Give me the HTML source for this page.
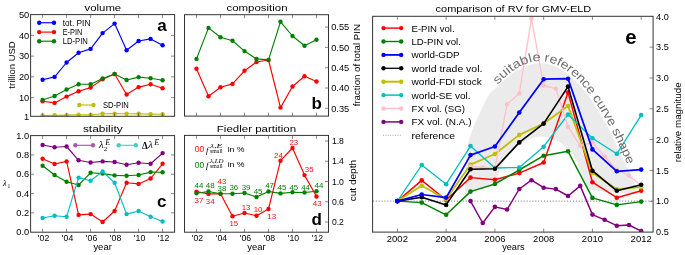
<!DOCTYPE html><html><head><meta charset="utf-8"><style>html,body{margin:0;padding:0;background:#fff;overflow:hidden}svg{display:block;will-change:transform}</style></head><body><svg width="685" height="255" viewBox="0 0 685 255" font-family="Liberation Sans, sans-serif">
<rect width="685" height="255" fill="#fff"/>
<g><polyline points="42.60,79.80 54.60,76.90 66.60,62.50 78.60,52.80 90.60,48.90 102.60,33.10 114.60,23.60 126.60,50.20 138.60,41.00 150.60,38.90 162.60,45.20" fill="none" stroke="#0000ff" stroke-width="1.15" stroke-linejoin="round"/>
<circle cx="42.60" cy="79.80" r="2.2" fill="#0000ff"/>
<circle cx="54.60" cy="76.90" r="2.2" fill="#0000ff"/>
<circle cx="66.60" cy="62.50" r="2.2" fill="#0000ff"/>
<circle cx="78.60" cy="52.80" r="2.2" fill="#0000ff"/>
<circle cx="90.60" cy="48.90" r="2.2" fill="#0000ff"/>
<circle cx="102.60" cy="33.10" r="2.2" fill="#0000ff"/>
<circle cx="114.60" cy="23.60" r="2.2" fill="#0000ff"/>
<circle cx="126.60" cy="50.20" r="2.2" fill="#0000ff"/>
<circle cx="138.60" cy="41.00" r="2.2" fill="#0000ff"/>
<circle cx="150.60" cy="38.90" r="2.2" fill="#0000ff"/>
<circle cx="162.60" cy="45.20" r="2.2" fill="#0000ff"/>
</g>
<g><polyline points="42.60,101.30 54.60,102.90 66.60,96.60 78.60,91.30 90.60,87.60 102.60,79.20 114.60,74.00 126.60,94.50 138.60,87.10 150.60,84.20 162.60,88.20" fill="none" stroke="#ff0000" stroke-width="1.15" stroke-linejoin="round"/>
<circle cx="42.60" cy="101.30" r="2.2" fill="#ff0000"/>
<circle cx="54.60" cy="102.90" r="2.2" fill="#ff0000"/>
<circle cx="66.60" cy="96.60" r="2.2" fill="#ff0000"/>
<circle cx="78.60" cy="91.30" r="2.2" fill="#ff0000"/>
<circle cx="90.60" cy="87.60" r="2.2" fill="#ff0000"/>
<circle cx="102.60" cy="79.20" r="2.2" fill="#ff0000"/>
<circle cx="114.60" cy="74.00" r="2.2" fill="#ff0000"/>
<circle cx="126.60" cy="94.50" r="2.2" fill="#ff0000"/>
<circle cx="138.60" cy="87.10" r="2.2" fill="#ff0000"/>
<circle cx="150.60" cy="84.20" r="2.2" fill="#ff0000"/>
<circle cx="162.60" cy="88.20" r="2.2" fill="#ff0000"/>
</g>
<g><polyline points="42.60,100.00 54.60,96.00 66.60,89.50 78.60,84.20 90.60,84.20 102.60,78.50 114.60,74.00 126.60,80.00 138.60,77.10 150.60,78.20 162.60,80.30" fill="none" stroke="#008000" stroke-width="1.15" stroke-linejoin="round"/>
<circle cx="42.60" cy="100.00" r="2.2" fill="#008000"/>
<circle cx="54.60" cy="96.00" r="2.2" fill="#008000"/>
<circle cx="66.60" cy="89.50" r="2.2" fill="#008000"/>
<circle cx="78.60" cy="84.20" r="2.2" fill="#008000"/>
<circle cx="90.60" cy="84.20" r="2.2" fill="#008000"/>
<circle cx="102.60" cy="78.50" r="2.2" fill="#008000"/>
<circle cx="114.60" cy="74.00" r="2.2" fill="#008000"/>
<circle cx="126.60" cy="80.00" r="2.2" fill="#008000"/>
<circle cx="138.60" cy="77.10" r="2.2" fill="#008000"/>
<circle cx="150.60" cy="78.20" r="2.2" fill="#008000"/>
<circle cx="162.60" cy="80.30" r="2.2" fill="#008000"/>
</g>
<clipPath id="ca"><rect x="30.6" y="14.6" width="144.0" height="101.7"/></clipPath>
<g clip-path="url(#ca)">
<g><polyline points="42.60,115.50 54.60,115.30 66.60,115.10 78.60,114.70 90.60,114.70 102.60,113.80 114.60,113.60 126.60,113.80 138.60,113.80 150.60,114.10 162.60,114.30" fill="none" stroke="#bfbf00" stroke-width="1.15" stroke-linejoin="round"/>
<circle cx="42.60" cy="115.50" r="2.2" fill="#bfbf00"/>
<circle cx="54.60" cy="115.30" r="2.2" fill="#bfbf00"/>
<circle cx="66.60" cy="115.10" r="2.2" fill="#bfbf00"/>
<circle cx="78.60" cy="114.70" r="2.2" fill="#bfbf00"/>
<circle cx="90.60" cy="114.70" r="2.2" fill="#bfbf00"/>
<circle cx="102.60" cy="113.80" r="2.2" fill="#bfbf00"/>
<circle cx="114.60" cy="113.60" r="2.2" fill="#bfbf00"/>
<circle cx="126.60" cy="113.80" r="2.2" fill="#bfbf00"/>
<circle cx="138.60" cy="113.80" r="2.2" fill="#bfbf00"/>
<circle cx="150.60" cy="114.10" r="2.2" fill="#bfbf00"/>
<circle cx="162.60" cy="114.30" r="2.2" fill="#bfbf00"/>
</g>
</g>
<rect x="30.6" y="14.6" width="144.00" height="101.70" fill="none" stroke="#333" stroke-width="1.0"/>
<line x1="42.60" y1="116.30" x2="42.60" y2="112.80" stroke="#555" stroke-width="0.7" />
<line x1="42.60" y1="14.60" x2="42.60" y2="18.10" stroke="#555" stroke-width="0.7" />
<line x1="66.60" y1="116.30" x2="66.60" y2="112.80" stroke="#555" stroke-width="0.7" />
<line x1="66.60" y1="14.60" x2="66.60" y2="18.10" stroke="#555" stroke-width="0.7" />
<line x1="90.60" y1="116.30" x2="90.60" y2="112.80" stroke="#555" stroke-width="0.7" />
<line x1="90.60" y1="14.60" x2="90.60" y2="18.10" stroke="#555" stroke-width="0.7" />
<line x1="114.60" y1="116.30" x2="114.60" y2="112.80" stroke="#555" stroke-width="0.7" />
<line x1="114.60" y1="14.60" x2="114.60" y2="18.10" stroke="#555" stroke-width="0.7" />
<line x1="138.60" y1="116.30" x2="138.60" y2="112.80" stroke="#555" stroke-width="0.7" />
<line x1="138.60" y1="14.60" x2="138.60" y2="18.10" stroke="#555" stroke-width="0.7" />
<line x1="162.60" y1="116.30" x2="162.60" y2="112.80" stroke="#555" stroke-width="0.7" />
<line x1="162.60" y1="14.60" x2="162.60" y2="18.10" stroke="#555" stroke-width="0.7" />
<line x1="30.60" y1="97.62" x2="34.10" y2="97.62" stroke="#555" stroke-width="0.7" />
<line x1="174.60" y1="97.62" x2="171.10" y2="97.62" stroke="#555" stroke-width="0.7" />
<line x1="30.60" y1="76.87" x2="34.10" y2="76.87" stroke="#555" stroke-width="0.7" />
<line x1="174.60" y1="76.87" x2="171.10" y2="76.87" stroke="#555" stroke-width="0.7" />
<line x1="30.60" y1="56.11" x2="34.10" y2="56.11" stroke="#555" stroke-width="0.7" />
<line x1="174.60" y1="56.11" x2="171.10" y2="56.11" stroke="#555" stroke-width="0.7" />
<line x1="30.60" y1="35.36" x2="34.10" y2="35.36" stroke="#555" stroke-width="0.7" />
<line x1="174.60" y1="35.36" x2="171.10" y2="35.36" stroke="#555" stroke-width="0.7" />
<text x="29.20" y="119.50" font-size="8.9" text-anchor="end" fill="#000" textLength="5.20" lengthAdjust="spacingAndGlyphs" >1</text>
<text x="29.20" y="100.82" font-size="8.9" text-anchor="end" fill="#000" textLength="10.30" lengthAdjust="spacingAndGlyphs" >10</text>
<text x="29.20" y="80.07" font-size="8.9" text-anchor="end" fill="#000" textLength="10.30" lengthAdjust="spacingAndGlyphs" >20</text>
<text x="29.20" y="59.31" font-size="8.9" text-anchor="end" fill="#000" textLength="10.30" lengthAdjust="spacingAndGlyphs" >30</text>
<text x="29.20" y="38.56" font-size="8.9" text-anchor="end" fill="#000" textLength="10.30" lengthAdjust="spacingAndGlyphs" >40</text>
<text x="29.20" y="17.80" font-size="8.9" text-anchor="end" fill="#000" textLength="10.30" lengthAdjust="spacingAndGlyphs" >50</text>
<text x="102.85" y="11.40" font-size="9.9" text-anchor="middle" fill="#000" textLength="36.70" lengthAdjust="spacingAndGlyphs" >volume</text>
<text transform="translate(15.0,65.0) rotate(-90)" font-size="8.6" text-anchor="middle" textLength="47.3" lengthAdjust="spacingAndGlyphs">trillion USD</text>
<text x="161.90" y="31.40" font-size="17" text-anchor="middle" fill="#000" font-weight="bold" >a</text>
<g><line x1="39.2" y1="22.75" x2="54.0" y2="22.75" stroke="#0000ff" stroke-width="1.15"/><circle cx="39.2" cy="22.75" r="2.2" fill="#0000ff"/><circle cx="54.0" cy="22.75" r="2.2" fill="#0000ff"/></g>
<text x="62.70" y="25.55" font-size="8.2" text-anchor="start" fill="#000" textLength="27.70" lengthAdjust="spacingAndGlyphs" >tot. PIN</text>
<g><line x1="39.2" y1="32.1" x2="54.0" y2="32.1" stroke="#ff0000" stroke-width="1.15"/><circle cx="39.2" cy="32.1" r="2.2" fill="#ff0000"/><circle cx="54.0" cy="32.1" r="2.2" fill="#ff0000"/></g>
<text x="62.70" y="34.90" font-size="8.2" text-anchor="start" fill="#000" textLength="19.60" lengthAdjust="spacingAndGlyphs" >E-PIN</text>
<g><line x1="39.2" y1="41.2" x2="54.0" y2="41.2" stroke="#008000" stroke-width="1.15"/><circle cx="39.2" cy="41.2" r="2.2" fill="#008000"/><circle cx="54.0" cy="41.2" r="2.2" fill="#008000"/></g>
<text x="62.70" y="44.00" font-size="8.2" text-anchor="start" fill="#000" textLength="25.20" lengthAdjust="spacingAndGlyphs" >LD-PIN</text>
<g><line x1="79.3" y1="105" x2="93.5" y2="105" stroke="#bfbf00" stroke-width="1.15"/><circle cx="79.3" cy="105" r="2.2" fill="#bfbf00"/><circle cx="93.5" cy="105" r="2.2" fill="#bfbf00"/></g>
<text x="103.00" y="107.80" font-size="8.2" text-anchor="start" fill="#000" textLength="25.80" lengthAdjust="spacingAndGlyphs" >SD-PIN</text>
<g><polyline points="196.50,68.70 208.50,96.30 220.50,87.30 232.50,83.90 244.50,70.80 256.50,62.00 268.50,60.00 280.50,107.60 292.50,86.50 304.50,76.30 316.50,81.50" fill="none" stroke="#ff0000" stroke-width="1.15" stroke-linejoin="round"/>
<circle cx="196.50" cy="68.70" r="2.2" fill="#ff0000"/>
<circle cx="208.50" cy="96.30" r="2.2" fill="#ff0000"/>
<circle cx="220.50" cy="87.30" r="2.2" fill="#ff0000"/>
<circle cx="232.50" cy="83.90" r="2.2" fill="#ff0000"/>
<circle cx="244.50" cy="70.80" r="2.2" fill="#ff0000"/>
<circle cx="256.50" cy="62.00" r="2.2" fill="#ff0000"/>
<circle cx="268.50" cy="60.00" r="2.2" fill="#ff0000"/>
<circle cx="280.50" cy="107.60" r="2.2" fill="#ff0000"/>
<circle cx="292.50" cy="86.50" r="2.2" fill="#ff0000"/>
<circle cx="304.50" cy="76.30" r="2.2" fill="#ff0000"/>
<circle cx="316.50" cy="81.50" r="2.2" fill="#ff0000"/>
</g>
<g><polyline points="196.50,58.90 208.50,27.90 220.50,37.30 232.50,40.70 244.50,51.10 256.50,58.90 268.50,59.90 280.50,21.80 292.50,36.00 304.50,45.70 316.50,39.70" fill="none" stroke="#008000" stroke-width="1.15" stroke-linejoin="round"/>
<circle cx="196.50" cy="58.90" r="2.2" fill="#008000"/>
<circle cx="208.50" cy="27.90" r="2.2" fill="#008000"/>
<circle cx="220.50" cy="37.30" r="2.2" fill="#008000"/>
<circle cx="232.50" cy="40.70" r="2.2" fill="#008000"/>
<circle cx="244.50" cy="51.10" r="2.2" fill="#008000"/>
<circle cx="256.50" cy="58.90" r="2.2" fill="#008000"/>
<circle cx="268.50" cy="59.90" r="2.2" fill="#008000"/>
<circle cx="280.50" cy="21.80" r="2.2" fill="#008000"/>
<circle cx="292.50" cy="36.00" r="2.2" fill="#008000"/>
<circle cx="304.50" cy="45.70" r="2.2" fill="#008000"/>
<circle cx="316.50" cy="39.70" r="2.2" fill="#008000"/>
</g>
<rect x="184.5" y="14.7" width="144.00" height="101.40" fill="none" stroke="#333" stroke-width="1.0"/>
<line x1="196.50" y1="116.10" x2="196.50" y2="112.60" stroke="#555" stroke-width="0.7" />
<line x1="196.50" y1="14.70" x2="196.50" y2="18.20" stroke="#555" stroke-width="0.7" />
<line x1="220.50" y1="116.10" x2="220.50" y2="112.60" stroke="#555" stroke-width="0.7" />
<line x1="220.50" y1="14.70" x2="220.50" y2="18.20" stroke="#555" stroke-width="0.7" />
<line x1="244.50" y1="116.10" x2="244.50" y2="112.60" stroke="#555" stroke-width="0.7" />
<line x1="244.50" y1="14.70" x2="244.50" y2="18.20" stroke="#555" stroke-width="0.7" />
<line x1="268.50" y1="116.10" x2="268.50" y2="112.60" stroke="#555" stroke-width="0.7" />
<line x1="268.50" y1="14.70" x2="268.50" y2="18.20" stroke="#555" stroke-width="0.7" />
<line x1="292.50" y1="116.10" x2="292.50" y2="112.60" stroke="#555" stroke-width="0.7" />
<line x1="292.50" y1="14.70" x2="292.50" y2="18.20" stroke="#555" stroke-width="0.7" />
<line x1="316.50" y1="116.10" x2="316.50" y2="112.60" stroke="#555" stroke-width="0.7" />
<line x1="316.50" y1="14.70" x2="316.50" y2="18.20" stroke="#555" stroke-width="0.7" />
<line x1="328.50" y1="108.30" x2="325.00" y2="108.30" stroke="#555" stroke-width="0.7" />
<line x1="328.50" y1="88.00" x2="325.00" y2="88.00" stroke="#555" stroke-width="0.7" />
<line x1="328.50" y1="67.70" x2="325.00" y2="67.70" stroke="#555" stroke-width="0.7" />
<line x1="328.50" y1="47.40" x2="325.00" y2="47.40" stroke="#555" stroke-width="0.7" />
<line x1="328.50" y1="27.10" x2="325.00" y2="27.10" stroke="#555" stroke-width="0.7" />
<text x="331.20" y="111.50" font-size="8.9" text-anchor="start" fill="#000" textLength="18.00" lengthAdjust="spacingAndGlyphs" >0.35</text>
<text x="331.20" y="91.20" font-size="8.9" text-anchor="start" fill="#000" textLength="18.00" lengthAdjust="spacingAndGlyphs" >0.40</text>
<text x="331.20" y="70.90" font-size="8.9" text-anchor="start" fill="#000" textLength="18.00" lengthAdjust="spacingAndGlyphs" >0.45</text>
<text x="331.20" y="50.60" font-size="8.9" text-anchor="start" fill="#000" textLength="18.00" lengthAdjust="spacingAndGlyphs" >0.50</text>
<text x="331.20" y="30.30" font-size="8.9" text-anchor="start" fill="#000" textLength="18.00" lengthAdjust="spacingAndGlyphs" >0.55</text>
<text x="257.00" y="11.40" font-size="9.9" text-anchor="middle" fill="#000" textLength="61.10" lengthAdjust="spacingAndGlyphs" >composition</text>
<text transform="translate(359.6,65.2) rotate(-90)" font-size="8.6" text-anchor="middle" textLength="82.2" lengthAdjust="spacingAndGlyphs">fraction of total PIN</text>
<text x="316.60" y="108.60" font-size="17" text-anchor="middle" fill="#000" font-weight="bold" >b</text>
<g><polyline points="42.60,158.80 54.60,164.00 66.60,161.40 78.60,214.90 90.60,214.10 102.60,222.00 114.60,211.00 126.60,182.80 138.60,183.90 150.60,178.50 162.60,163.80" fill="none" stroke="#ff0000" stroke-width="1.15" stroke-linejoin="round"/>
<circle cx="42.60" cy="158.80" r="2.2" fill="#ff0000"/>
<circle cx="54.60" cy="164.00" r="2.2" fill="#ff0000"/>
<circle cx="66.60" cy="161.40" r="2.2" fill="#ff0000"/>
<circle cx="78.60" cy="214.90" r="2.2" fill="#ff0000"/>
<circle cx="90.60" cy="214.10" r="2.2" fill="#ff0000"/>
<circle cx="102.60" cy="222.00" r="2.2" fill="#ff0000"/>
<circle cx="114.60" cy="211.00" r="2.2" fill="#ff0000"/>
<circle cx="126.60" cy="182.80" r="2.2" fill="#ff0000"/>
<circle cx="138.60" cy="183.90" r="2.2" fill="#ff0000"/>
<circle cx="150.60" cy="178.50" r="2.2" fill="#ff0000"/>
<circle cx="162.60" cy="163.80" r="2.2" fill="#ff0000"/>
</g>
<g><polyline points="42.60,165.80 54.60,175.00 66.60,181.70 78.60,185.00 90.60,172.80 102.60,173.60 114.60,175.40 126.60,175.80 138.60,175.00 150.60,172.10 162.60,172.30" fill="none" stroke="#008000" stroke-width="1.15" stroke-linejoin="round"/>
<circle cx="42.60" cy="165.80" r="2.2" fill="#008000"/>
<circle cx="54.60" cy="175.00" r="2.2" fill="#008000"/>
<circle cx="66.60" cy="181.70" r="2.2" fill="#008000"/>
<circle cx="78.60" cy="185.00" r="2.2" fill="#008000"/>
<circle cx="90.60" cy="172.80" r="2.2" fill="#008000"/>
<circle cx="102.60" cy="173.60" r="2.2" fill="#008000"/>
<circle cx="114.60" cy="175.40" r="2.2" fill="#008000"/>
<circle cx="126.60" cy="175.80" r="2.2" fill="#008000"/>
<circle cx="138.60" cy="175.00" r="2.2" fill="#008000"/>
<circle cx="150.60" cy="172.10" r="2.2" fill="#008000"/>
<circle cx="162.60" cy="172.30" r="2.2" fill="#008000"/>
</g>
<g><polyline points="42.60,145.00 54.60,147.30 66.60,146.50 78.60,160.30 90.60,162.50 102.60,161.40 114.60,162.00 126.60,164.70 138.60,162.80 150.60,163.80 162.60,153.10" fill="none" stroke="#800080" stroke-width="1.15" stroke-linejoin="round"/>
<circle cx="42.60" cy="145.00" r="2.2" fill="#800080"/>
<circle cx="54.60" cy="147.30" r="2.2" fill="#800080"/>
<circle cx="66.60" cy="146.50" r="2.2" fill="#800080"/>
<circle cx="78.60" cy="160.30" r="2.2" fill="#800080"/>
<circle cx="90.60" cy="162.50" r="2.2" fill="#800080"/>
<circle cx="102.60" cy="161.40" r="2.2" fill="#800080"/>
<circle cx="114.60" cy="162.00" r="2.2" fill="#800080"/>
<circle cx="126.60" cy="164.70" r="2.2" fill="#800080"/>
<circle cx="138.60" cy="162.80" r="2.2" fill="#800080"/>
<circle cx="150.60" cy="163.80" r="2.2" fill="#800080"/>
<circle cx="162.60" cy="153.10" r="2.2" fill="#800080"/>
</g>
<g><polyline points="42.60,218.00 54.60,215.70 66.60,216.70 78.60,177.60 90.60,180.70 102.60,171.50 114.60,182.80 126.60,214.10 138.60,211.00 150.60,216.70 162.60,221.50" fill="none" stroke="#00bfbf" stroke-width="1.15" stroke-linejoin="round"/>
<circle cx="42.60" cy="218.00" r="2.2" fill="#00bfbf"/>
<circle cx="54.60" cy="215.70" r="2.2" fill="#00bfbf"/>
<circle cx="66.60" cy="216.70" r="2.2" fill="#00bfbf"/>
<circle cx="78.60" cy="177.60" r="2.2" fill="#00bfbf"/>
<circle cx="90.60" cy="180.70" r="2.2" fill="#00bfbf"/>
<circle cx="102.60" cy="171.50" r="2.2" fill="#00bfbf"/>
<circle cx="114.60" cy="182.80" r="2.2" fill="#00bfbf"/>
<circle cx="126.60" cy="214.10" r="2.2" fill="#00bfbf"/>
<circle cx="138.60" cy="211.00" r="2.2" fill="#00bfbf"/>
<circle cx="150.60" cy="216.70" r="2.2" fill="#00bfbf"/>
<circle cx="162.60" cy="221.50" r="2.2" fill="#00bfbf"/>
</g>
<rect x="30.6" y="135.6" width="144.00" height="96.60" fill="none" stroke="#333" stroke-width="1.0"/>
<line x1="42.60" y1="232.20" x2="42.60" y2="228.70" stroke="#555" stroke-width="0.7" />
<line x1="42.60" y1="135.60" x2="42.60" y2="139.10" stroke="#555" stroke-width="0.7" />
<line x1="66.60" y1="232.20" x2="66.60" y2="228.70" stroke="#555" stroke-width="0.7" />
<line x1="66.60" y1="135.60" x2="66.60" y2="139.10" stroke="#555" stroke-width="0.7" />
<line x1="90.60" y1="232.20" x2="90.60" y2="228.70" stroke="#555" stroke-width="0.7" />
<line x1="90.60" y1="135.60" x2="90.60" y2="139.10" stroke="#555" stroke-width="0.7" />
<line x1="114.60" y1="232.20" x2="114.60" y2="228.70" stroke="#555" stroke-width="0.7" />
<line x1="114.60" y1="135.60" x2="114.60" y2="139.10" stroke="#555" stroke-width="0.7" />
<line x1="138.60" y1="232.20" x2="138.60" y2="228.70" stroke="#555" stroke-width="0.7" />
<line x1="138.60" y1="135.60" x2="138.60" y2="139.10" stroke="#555" stroke-width="0.7" />
<line x1="162.60" y1="232.20" x2="162.60" y2="228.70" stroke="#555" stroke-width="0.7" />
<line x1="162.60" y1="135.60" x2="162.60" y2="139.10" stroke="#555" stroke-width="0.7" />
<line x1="30.60" y1="212.88" x2="34.10" y2="212.88" stroke="#555" stroke-width="0.7" />
<line x1="174.60" y1="212.88" x2="171.10" y2="212.88" stroke="#555" stroke-width="0.7" />
<line x1="30.60" y1="193.56" x2="34.10" y2="193.56" stroke="#555" stroke-width="0.7" />
<line x1="174.60" y1="193.56" x2="171.10" y2="193.56" stroke="#555" stroke-width="0.7" />
<line x1="30.60" y1="174.24" x2="34.10" y2="174.24" stroke="#555" stroke-width="0.7" />
<line x1="174.60" y1="174.24" x2="171.10" y2="174.24" stroke="#555" stroke-width="0.7" />
<line x1="30.60" y1="154.92" x2="34.10" y2="154.92" stroke="#555" stroke-width="0.7" />
<line x1="174.60" y1="154.92" x2="171.10" y2="154.92" stroke="#555" stroke-width="0.7" />
<text x="29.20" y="235.40" font-size="8.9" text-anchor="end" fill="#000" textLength="12.90" lengthAdjust="spacingAndGlyphs" >0.0</text>
<text x="29.20" y="216.08" font-size="8.9" text-anchor="end" fill="#000" textLength="12.90" lengthAdjust="spacingAndGlyphs" >0.2</text>
<text x="29.20" y="196.76" font-size="8.9" text-anchor="end" fill="#000" textLength="12.90" lengthAdjust="spacingAndGlyphs" >0.4</text>
<text x="29.20" y="177.44" font-size="8.9" text-anchor="end" fill="#000" textLength="12.90" lengthAdjust="spacingAndGlyphs" >0.6</text>
<text x="29.20" y="158.12" font-size="8.9" text-anchor="end" fill="#000" textLength="12.90" lengthAdjust="spacingAndGlyphs" >0.8</text>
<text x="29.20" y="138.80" font-size="8.9" text-anchor="end" fill="#000" textLength="12.90" lengthAdjust="spacingAndGlyphs" >1.0</text>
<text x="44.45" y="241.40" font-size="9.0" text-anchor="middle" fill="#000" textLength="9.70" lengthAdjust="spacingAndGlyphs" >02</text>
<text x="38.40" y="241.40" font-size="9.0" text-anchor="middle" fill="#000" >'</text>
<text x="68.45" y="241.40" font-size="9.0" text-anchor="middle" fill="#000" textLength="9.70" lengthAdjust="spacingAndGlyphs" >04</text>
<text x="62.40" y="241.40" font-size="9.0" text-anchor="middle" fill="#000" >'</text>
<text x="92.45" y="241.40" font-size="9.0" text-anchor="middle" fill="#000" textLength="9.70" lengthAdjust="spacingAndGlyphs" >06</text>
<text x="86.40" y="241.40" font-size="9.0" text-anchor="middle" fill="#000" >'</text>
<text x="116.45" y="241.40" font-size="9.0" text-anchor="middle" fill="#000" textLength="9.70" lengthAdjust="spacingAndGlyphs" >08</text>
<text x="110.40" y="241.40" font-size="9.0" text-anchor="middle" fill="#000" >'</text>
<text x="140.45" y="241.40" font-size="9.0" text-anchor="middle" fill="#000" textLength="9.70" lengthAdjust="spacingAndGlyphs" >10</text>
<text x="134.40" y="241.40" font-size="9.0" text-anchor="middle" fill="#000" >'</text>
<text x="164.45" y="241.40" font-size="9.0" text-anchor="middle" fill="#000" textLength="9.70" lengthAdjust="spacingAndGlyphs" >12</text>
<text x="158.40" y="241.40" font-size="9.0" text-anchor="middle" fill="#000" >'</text>
<text x="102.60" y="250.20" font-size="8.9" text-anchor="middle" fill="#000" textLength="18.40" lengthAdjust="spacingAndGlyphs" >year</text>
<text x="102.80" y="131.60" font-size="9.9" text-anchor="middle" fill="#000" textLength="39.80" lengthAdjust="spacingAndGlyphs" >stability</text>
<text x="3.00" y="186.00" font-size="8.5" text-anchor="start" fill="#000" font-family="Liberation Serif" font-style="italic">λ</text>
<text x="7.40" y="187.60" font-size="5.5" text-anchor="start" fill="#000" font-family="Liberation Serif">1</text>
<text x="161.80" y="207.00" font-size="17" text-anchor="middle" fill="#000" font-weight="bold" >c</text>
<g opacity="0.65"><line x1="75.4" y1="145.3" x2="93.0" y2="145.3" stroke="#800080" stroke-width="1.15"/><circle cx="75.4" cy="145.3" r="2.2" fill="#800080"/><circle cx="93.0" cy="145.3" r="2.2" fill="#800080"/></g>
<g opacity="0.75"><line x1="118.7" y1="145.3" x2="135.9" y2="145.3" stroke="#00bfbf" stroke-width="1.15"/><circle cx="118.7" cy="145.3" r="2.2" fill="#00bfbf"/><circle cx="135.9" cy="145.3" r="2.2" fill="#00bfbf"/></g>
<g font-family="Liberation Serif" font-style="italic">
<text x="99.00" y="148.30" font-size="10.5" text-anchor="start" fill="#000" >λ</text>
<text x="103.80" y="150.80" font-size="7.0" text-anchor="start" fill="#000" font-style="normal">2</text>
<text x="105.30" y="144.60" font-size="8.0" text-anchor="start" fill="#000" textLength="4.90" lengthAdjust="spacingAndGlyphs" >E</text>
</g>
<g font-family="Liberation Serif">
<text x="141.90" y="148.50" font-size="10.0" text-anchor="start" fill="#000" textLength="5.80" lengthAdjust="spacingAndGlyphs" font-weight="bold" >Δ</text>
<text x="148.30" y="148.30" font-size="10.5" text-anchor="start" fill="#000" font-style="italic">λ</text>
<text x="154.30" y="144.60" font-size="8.0" text-anchor="start" fill="#000" textLength="4.90" lengthAdjust="spacingAndGlyphs" font-style="italic">E</text>
</g>
<g><polyline points="196.50,191.60 208.50,193.90 220.50,193.70 232.50,216.30 244.50,213.00 256.50,215.80 268.50,209.00 280.50,160.70 292.50,148.00 304.50,175.10 316.50,196.50" fill="none" stroke="#ff0000" stroke-width="1.15" stroke-linejoin="round"/>
<circle cx="196.50" cy="191.60" r="2.2" fill="#ff0000"/>
<circle cx="208.50" cy="193.90" r="2.2" fill="#ff0000"/>
<circle cx="220.50" cy="193.70" r="2.2" fill="#ff0000"/>
<circle cx="232.50" cy="216.30" r="2.2" fill="#ff0000"/>
<circle cx="244.50" cy="213.00" r="2.2" fill="#ff0000"/>
<circle cx="256.50" cy="215.80" r="2.2" fill="#ff0000"/>
<circle cx="268.50" cy="209.00" r="2.2" fill="#ff0000"/>
<circle cx="280.50" cy="160.70" r="2.2" fill="#ff0000"/>
<circle cx="292.50" cy="148.00" r="2.2" fill="#ff0000"/>
<circle cx="304.50" cy="175.10" r="2.2" fill="#ff0000"/>
<circle cx="316.50" cy="196.50" r="2.2" fill="#ff0000"/>
</g>
<g><polyline points="196.50,193.20 208.50,191.50 220.50,193.70 232.50,193.70 244.50,193.00 256.50,197.00 268.50,191.50 280.50,193.40 292.50,192.30 304.50,192.50 316.50,191.30" fill="none" stroke="#008000" stroke-width="1.15" stroke-linejoin="round"/>
<circle cx="196.50" cy="193.20" r="2.2" fill="#008000"/>
<circle cx="208.50" cy="191.50" r="2.2" fill="#008000"/>
<circle cx="220.50" cy="193.70" r="2.2" fill="#008000"/>
<circle cx="232.50" cy="193.70" r="2.2" fill="#008000"/>
<circle cx="244.50" cy="193.00" r="2.2" fill="#008000"/>
<circle cx="256.50" cy="197.00" r="2.2" fill="#008000"/>
<circle cx="268.50" cy="191.50" r="2.2" fill="#008000"/>
<circle cx="280.50" cy="193.40" r="2.2" fill="#008000"/>
<circle cx="292.50" cy="192.30" r="2.2" fill="#008000"/>
<circle cx="304.50" cy="192.50" r="2.2" fill="#008000"/>
<circle cx="316.50" cy="191.30" r="2.2" fill="#008000"/>
</g>
<rect x="184.5" y="135.4" width="144.00" height="96.80" fill="none" stroke="#333" stroke-width="1.0"/>
<line x1="196.50" y1="232.20" x2="196.50" y2="228.70" stroke="#555" stroke-width="0.7" />
<line x1="196.50" y1="135.40" x2="196.50" y2="138.90" stroke="#555" stroke-width="0.7" />
<line x1="220.50" y1="232.20" x2="220.50" y2="228.70" stroke="#555" stroke-width="0.7" />
<line x1="220.50" y1="135.40" x2="220.50" y2="138.90" stroke="#555" stroke-width="0.7" />
<line x1="244.50" y1="232.20" x2="244.50" y2="228.70" stroke="#555" stroke-width="0.7" />
<line x1="244.50" y1="135.40" x2="244.50" y2="138.90" stroke="#555" stroke-width="0.7" />
<line x1="268.50" y1="232.20" x2="268.50" y2="228.70" stroke="#555" stroke-width="0.7" />
<line x1="268.50" y1="135.40" x2="268.50" y2="138.90" stroke="#555" stroke-width="0.7" />
<line x1="292.50" y1="232.20" x2="292.50" y2="228.70" stroke="#555" stroke-width="0.7" />
<line x1="292.50" y1="135.40" x2="292.50" y2="138.90" stroke="#555" stroke-width="0.7" />
<line x1="316.50" y1="232.20" x2="316.50" y2="228.70" stroke="#555" stroke-width="0.7" />
<line x1="316.50" y1="135.40" x2="316.50" y2="138.90" stroke="#555" stroke-width="0.7" />
<line x1="328.50" y1="222.00" x2="325.00" y2="222.00" stroke="#555" stroke-width="0.7" />
<line x1="328.50" y1="201.75" x2="325.00" y2="201.75" stroke="#555" stroke-width="0.7" />
<line x1="328.50" y1="181.50" x2="325.00" y2="181.50" stroke="#555" stroke-width="0.7" />
<line x1="328.50" y1="161.25" x2="325.00" y2="161.25" stroke="#555" stroke-width="0.7" />
<line x1="328.50" y1="141.00" x2="325.00" y2="141.00" stroke="#555" stroke-width="0.7" />
<text x="331.90" y="225.20" font-size="8.9" text-anchor="start" fill="#000" textLength="12.00" lengthAdjust="spacingAndGlyphs" >0.2</text>
<text x="331.90" y="204.95" font-size="8.9" text-anchor="start" fill="#000" textLength="12.00" lengthAdjust="spacingAndGlyphs" >0.6</text>
<text x="331.90" y="184.70" font-size="8.9" text-anchor="start" fill="#000" textLength="12.00" lengthAdjust="spacingAndGlyphs" >1.0</text>
<text x="331.90" y="164.45" font-size="8.9" text-anchor="start" fill="#000" textLength="12.00" lengthAdjust="spacingAndGlyphs" >1.4</text>
<text x="331.90" y="144.20" font-size="8.9" text-anchor="start" fill="#000" textLength="12.00" lengthAdjust="spacingAndGlyphs" >1.8</text>
<text x="198.35" y="241.40" font-size="9.0" text-anchor="middle" fill="#000" textLength="9.70" lengthAdjust="spacingAndGlyphs" >02</text>
<text x="192.30" y="241.40" font-size="9.0" text-anchor="middle" fill="#000" >'</text>
<text x="222.35" y="241.40" font-size="9.0" text-anchor="middle" fill="#000" textLength="9.70" lengthAdjust="spacingAndGlyphs" >04</text>
<text x="216.30" y="241.40" font-size="9.0" text-anchor="middle" fill="#000" >'</text>
<text x="246.35" y="241.40" font-size="9.0" text-anchor="middle" fill="#000" textLength="9.70" lengthAdjust="spacingAndGlyphs" >06</text>
<text x="240.30" y="241.40" font-size="9.0" text-anchor="middle" fill="#000" >'</text>
<text x="270.35" y="241.40" font-size="9.0" text-anchor="middle" fill="#000" textLength="9.70" lengthAdjust="spacingAndGlyphs" >08</text>
<text x="264.30" y="241.40" font-size="9.0" text-anchor="middle" fill="#000" >'</text>
<text x="294.35" y="241.40" font-size="9.0" text-anchor="middle" fill="#000" textLength="9.70" lengthAdjust="spacingAndGlyphs" >10</text>
<text x="288.30" y="241.40" font-size="9.0" text-anchor="middle" fill="#000" >'</text>
<text x="318.35" y="241.40" font-size="9.0" text-anchor="middle" fill="#000" textLength="9.70" lengthAdjust="spacingAndGlyphs" >12</text>
<text x="312.30" y="241.40" font-size="9.0" text-anchor="middle" fill="#000" >'</text>
<text x="256.50" y="250.20" font-size="8.9" text-anchor="middle" fill="#000" textLength="18.40" lengthAdjust="spacingAndGlyphs" >year</text>
<text x="256.50" y="131.60" font-size="9.9" text-anchor="middle" fill="#000" textLength="79.30" lengthAdjust="spacingAndGlyphs" >Fiedler partition</text>
<text transform="translate(355.7,180.6) rotate(-90)" font-size="8.6" text-anchor="middle" textLength="41.4" lengthAdjust="spacingAndGlyphs">cut depth</text>
<text x="316.60" y="224.60" font-size="17" text-anchor="middle" fill="#000" font-weight="bold" >d</text>
<text x="198.90" y="187.60" font-size="7.4" text-anchor="middle" fill="#008000" textLength="8.80" lengthAdjust="spacingAndGlyphs" >44</text>
<text x="210.20" y="187.60" font-size="7.4" text-anchor="middle" fill="#008000" textLength="8.80" lengthAdjust="spacingAndGlyphs" >48</text>
<text x="222.00" y="190.90" font-size="7.4" text-anchor="middle" fill="#008000" textLength="8.80" lengthAdjust="spacingAndGlyphs" >38</text>
<text x="233.80" y="190.40" font-size="7.4" text-anchor="middle" fill="#008000" textLength="8.80" lengthAdjust="spacingAndGlyphs" >36</text>
<text x="246.10" y="189.70" font-size="7.4" text-anchor="middle" fill="#008000" textLength="8.80" lengthAdjust="spacingAndGlyphs" >39</text>
<text x="258.10" y="193.50" font-size="7.4" text-anchor="middle" fill="#008000" textLength="8.80" lengthAdjust="spacingAndGlyphs" >45</text>
<text x="269.60" y="188.10" font-size="7.4" text-anchor="middle" fill="#008000" textLength="8.80" lengthAdjust="spacingAndGlyphs" >47</text>
<text x="282.00" y="190.20" font-size="7.4" text-anchor="middle" fill="#008000" textLength="8.80" lengthAdjust="spacingAndGlyphs" >45</text>
<text x="293.80" y="189.90" font-size="7.4" text-anchor="middle" fill="#008000" textLength="8.80" lengthAdjust="spacingAndGlyphs" >45</text>
<text x="305.60" y="189.90" font-size="7.4" text-anchor="middle" fill="#008000" textLength="8.80" lengthAdjust="spacingAndGlyphs" >44</text>
<text x="318.90" y="188.30" font-size="7.4" text-anchor="middle" fill="#008000" textLength="8.80" lengthAdjust="spacingAndGlyphs" >44</text>
<text x="198.90" y="203.30" font-size="7.4" text-anchor="middle" fill="#ee1111" textLength="8.80" lengthAdjust="spacingAndGlyphs" >37</text>
<text x="210.20" y="203.80" font-size="7.4" text-anchor="middle" fill="#ee1111" textLength="8.80" lengthAdjust="spacingAndGlyphs" >34</text>
<text x="222.00" y="183.70" font-size="7.4" text-anchor="middle" fill="#ee1111" textLength="8.80" lengthAdjust="spacingAndGlyphs" >43</text>
<text x="233.80" y="225.50" font-size="7.4" text-anchor="middle" fill="#ee1111" textLength="8.80" lengthAdjust="spacingAndGlyphs" >15</text>
<text x="246.10" y="209.50" font-size="7.4" text-anchor="middle" fill="#ee1111" textLength="8.80" lengthAdjust="spacingAndGlyphs" >13</text>
<text x="258.10" y="212.30" font-size="7.4" text-anchor="middle" fill="#ee1111" textLength="8.80" lengthAdjust="spacingAndGlyphs" >10</text>
<text x="271.70" y="218.80" font-size="7.4" text-anchor="middle" fill="#ee1111" textLength="8.80" lengthAdjust="spacingAndGlyphs" >13</text>
<text x="278.50" y="157.50" font-size="7.4" text-anchor="middle" fill="#ee1111" textLength="8.80" lengthAdjust="spacingAndGlyphs" >24</text>
<text x="293.80" y="145.20" font-size="7.4" text-anchor="middle" fill="#ee1111" textLength="8.80" lengthAdjust="spacingAndGlyphs" >23</text>
<text x="309.20" y="171.60" font-size="7.4" text-anchor="middle" fill="#ee1111" textLength="8.80" lengthAdjust="spacingAndGlyphs" >35</text>
<text x="317.20" y="206.20" font-size="7.4" text-anchor="middle" fill="#ee1111" textLength="8.80" lengthAdjust="spacingAndGlyphs" >43</text>
<text x="194.70" y="152.10" font-size="8.2" text-anchor="start" fill="#ee1111" textLength="9.40" lengthAdjust="spacingAndGlyphs" >00</text>
<text x="194.70" y="167.50" font-size="8.2" text-anchor="start" fill="#008000" textLength="9.40" lengthAdjust="spacingAndGlyphs" >00</text>
<text x="206.0" y="152.8" font-size="9" font-family="Liberation Serif" font-style="italic" fill="#000">f</text>
<text x="210.1" y="147.8" font-size="5.2" font-family="Liberation Serif" font-style="italic" fill="#000" textLength="12.1" lengthAdjust="spacingAndGlyphs">λ,E</text>
<text x="210.1" y="153.0" font-size="5.2" font-family="Liberation Serif" fill="#000" textLength="12.6" lengthAdjust="spacingAndGlyphs">small</text>
<text x="227.70" y="151.70" font-size="8.0" text-anchor="start" fill="#000" textLength="16.90" lengthAdjust="spacingAndGlyphs" >in %</text>
<text x="206.0" y="168.20000000000002" font-size="9" font-family="Liberation Serif" font-style="italic" fill="#000">f</text>
<text x="210.1" y="163.20000000000002" font-size="5.2" font-family="Liberation Serif" font-style="italic" fill="#000" textLength="13.5" lengthAdjust="spacingAndGlyphs">λ,LD</text>
<text x="210.1" y="168.4" font-size="5.2" font-family="Liberation Serif" fill="#000" textLength="12.6" lengthAdjust="spacingAndGlyphs">small</text>
<text x="227.70" y="167.10" font-size="8.0" text-anchor="start" fill="#000" textLength="16.90" lengthAdjust="spacingAndGlyphs" >in %</text>
<clipPath id="ce"><rect x="372.6" y="16.3" width="280.50" height="215.80"/></clipPath>
<g clip-path="url(#ce)">
<path d="M464.50,196.00 L464.58,194.52 L464.68,192.54 L464.81,190.18 L464.95,187.56 L465.10,184.81 L465.24,182.05 L465.38,179.41 L465.50,177.00 L465.61,174.75 L465.71,172.49 L465.81,170.26 L465.90,168.06 L465.99,165.92 L466.09,163.85 L466.19,161.87 L466.30,160.00 L466.41,158.25 L466.50,156.62 L466.59,155.09 L466.69,153.62 L466.81,152.21 L466.94,150.81 L467.10,149.42 L467.30,148.00 L467.53,146.58 L467.77,145.20 L468.04,143.85 L468.33,142.50 L468.65,141.15 L469.00,139.80 L469.38,138.42 L469.80,137.00 L470.25,135.57 L470.73,134.14 L471.24,132.71 L471.77,131.25 L472.35,129.76 L472.96,128.23 L473.61,126.65 L474.30,125.00 L475.04,123.27 L475.84,121.46 L476.68,119.59 L477.56,117.69 L478.46,115.76 L479.37,113.82 L480.29,111.90 L481.20,110.00 L482.12,108.07 L483.07,106.05 L484.04,104.00 L485.01,101.97 L485.99,100.00 L486.95,98.15 L487.89,96.47 L488.80,95.00 L489.67,93.79 L490.50,92.82 L491.30,92.03 L492.09,91.34 L492.90,90.71 L493.72,90.07 L494.58,89.35 L495.50,88.50 L496.43,87.55 L497.32,86.58 L498.23,85.58 L499.17,84.55 L500.18,83.48 L501.31,82.37 L502.57,81.21 L504.00,80.00 L505.61,78.68 L507.38,77.24 L509.27,75.71 L511.28,74.16 L513.38,72.64 L515.54,71.18 L517.76,69.85 L520.00,68.70 L522.31,67.66 L524.72,66.66 L527.21,65.72 L529.75,64.89 L532.32,64.19 L534.91,63.66 L537.47,63.32 L540.00,63.20 L542.51,63.31 L545.05,63.61 L547.59,64.10 L550.12,64.75 L552.65,65.56 L555.14,66.51 L557.60,67.60 L560.00,68.80 L562.37,70.17 L564.73,71.73 L567.07,73.45 L569.38,75.30 L571.63,77.24 L573.83,79.25 L575.96,81.28 L578.00,83.30 L579.93,85.29 L581.74,87.29 L583.47,89.30 L585.15,91.38 L586.81,93.55 L588.48,95.84 L590.20,98.28 L592.00,100.90 L593.87,103.70 L595.79,106.66 L597.74,109.76 L599.71,112.98 L601.69,116.32 L603.68,119.76 L605.65,123.29 L607.60,126.90 L609.57,130.71 L611.59,134.80 L613.63,139.06 L615.65,143.38 L617.63,147.65 L619.53,151.79 L621.33,155.67 L623.00,159.20 L624.55,162.40 L626.03,165.37 L627.43,168.14 L628.74,170.74 L629.96,173.20 L631.08,175.55 L632.10,177.80 L633.00,180.00 L633.77,182.17 L634.41,184.31 L634.94,186.36 L635.38,188.30 L635.73,190.07 L636.02,191.64 L636.27,192.97 L636.50,194.00 L588.00,190.00 L587.54,188.93 L586.92,187.53 L586.19,185.86 L585.38,184.00 L584.51,182.01 L583.64,179.97 L582.79,177.94 L582.00,176.00 L581.27,174.07 L580.57,172.05 L579.88,169.97 L579.19,167.88 L578.47,165.79 L577.71,163.77 L576.89,161.82 L576.00,160.00 L575.04,158.28 L574.03,156.64 L572.98,155.05 L571.88,153.53 L570.73,152.07 L569.53,150.66 L568.29,149.31 L567.00,148.00 L565.66,146.73 L564.26,145.50 L562.81,144.31 L561.31,143.19 L559.78,142.13 L558.21,141.16 L556.62,140.28 L555.00,139.50 L553.33,138.82 L551.59,138.22 L549.81,137.71 L548.00,137.28 L546.19,136.94 L544.41,136.70 L542.67,136.55 L541.00,136.50 L539.41,136.55 L537.89,136.69 L536.42,136.92 L534.97,137.25 L533.52,137.67 L532.06,138.19 L530.56,138.80 L529.00,139.50 L527.36,140.32 L525.65,141.28 L523.89,142.35 L522.12,143.50 L520.37,144.71 L518.66,145.97 L517.03,147.24 L515.50,148.50 L514.06,149.78 L512.66,151.10 L511.32,152.46 L510.03,153.84 L508.80,155.25 L507.64,156.67 L506.53,158.09 L505.50,159.50 L504.54,160.92 L503.65,162.38 L502.83,163.84 L502.06,165.31 L501.35,166.78 L500.70,168.22 L500.08,169.63 L499.50,171.00 L498.96,172.39 L498.47,173.84 L498.02,175.30 L497.62,176.72 L497.27,178.05 L496.97,179.24 L496.71,180.24 L496.50,181.00 Z" fill="#ebebeb"/>
</g>
<path id="tpath" d="M438.45,200.32 L440.11,195.76 L441.78,191.27 L443.44,186.85 L445.11,182.52 L446.77,178.26 L448.43,174.07 L450.10,169.97 L451.76,165.93 L453.43,161.98 L455.09,158.10 L456.76,154.30 L458.42,150.57 L460.09,146.92 L461.76,143.34 L463.42,139.84 L465.09,136.42 L466.76,133.08 L468.43,129.80 L470.09,126.61 L471.76,123.49 L473.43,120.45 L475.10,117.48 L476.77,114.59 L478.45,111.78 L480.12,109.04 L481.79,106.37 L483.47,103.79 L485.14,101.27 L486.82,98.84 L488.50,96.48 L490.17,94.19 L491.85,91.99 L493.54,89.85 L495.22,87.80 L496.90,85.81 L498.59,83.91 L500.28,82.08 L501.97,80.32 L503.66,78.64 L505.35,77.04 L507.05,75.51 L508.75,74.06 L510.46,72.69 L512.16,71.39 L513.87,70.17 L515.58,69.02 L517.30,67.95 L519.02,66.96 L520.74,66.05 L522.47,65.21 L524.20,64.45 L525.93,63.77 L527.67,63.17 L529.41,62.65 L531.15,62.21 L532.90,61.85 L534.65,61.56 L536.40,61.36 L538.15,61.24 L539.90,61.20 L541.65,61.24 L543.40,61.36 L545.15,61.56 L546.90,61.85 L548.65,62.21 L550.39,62.65 L552.13,63.17 L553.87,63.77 L555.60,64.45 L557.33,65.21 L559.06,66.05 L560.78,66.96 L562.50,67.95 L564.22,69.02 L565.93,70.17 L567.64,71.39 L569.34,72.69 L571.05,74.06 L572.75,75.51 L574.45,77.04 L576.14,78.64 L577.83,80.32 L579.52,82.08 L581.21,83.91 L582.90,85.81 L584.58,87.80 L586.26,89.85 L587.95,91.99 L589.63,94.19 L591.30,96.48 L592.98,98.84 L594.66,101.27 L596.33,103.79 L598.01,106.37 L599.68,109.04 L601.35,111.78 L603.03,114.59 L604.70,117.48 L606.37,120.45 L608.04,123.49 L609.71,126.61 L611.37,129.80 L613.04,133.08 L614.71,136.42 L616.38,139.84 L618.04,143.34 L619.71,146.92 L621.38,150.57 L623.04,154.30 L624.71,158.10 L626.37,161.98 L628.04,165.93 L629.70,169.97 L631.37,174.07 L633.03,178.26 L634.69,182.52 L636.36,186.85 L638.02,191.27 L639.69,195.76 L641.35,200.32" fill="none"/>
<g clip-path="url(#ce)">
<line x1="372.60" y1="201.10" x2="653.10" y2="201.10" stroke="#707070" stroke-width="1.0" stroke-dasharray="1,1.9" stroke-dashoffset="-0.3"/>
<g><polyline points="397.38,201.10 421.76,180.40 446.14,200.00 470.52,177.60 494.90,179.80 519.28,173.10 543.66,162.50 568.04,92.50 592.42,182.20 616.80,197.70 641.18,190.80" fill="none" stroke="#ff0000" stroke-width="1.45" stroke-linejoin="round"/>
<circle cx="397.38" cy="201.10" r="2.3" fill="#ff0000"/>
<circle cx="421.76" cy="180.40" r="2.3" fill="#ff0000"/>
<circle cx="446.14" cy="200.00" r="2.3" fill="#ff0000"/>
<circle cx="470.52" cy="177.60" r="2.3" fill="#ff0000"/>
<circle cx="494.90" cy="179.80" r="2.3" fill="#ff0000"/>
<circle cx="519.28" cy="173.10" r="2.3" fill="#ff0000"/>
<circle cx="543.66" cy="162.50" r="2.3" fill="#ff0000"/>
<circle cx="568.04" cy="92.50" r="2.3" fill="#ff0000"/>
<circle cx="592.42" cy="182.20" r="2.3" fill="#ff0000"/>
<circle cx="616.80" cy="197.70" r="2.3" fill="#ff0000"/>
<circle cx="641.18" cy="190.80" r="2.3" fill="#ff0000"/>
</g>
<g><polyline points="397.38,201.10 421.76,202.60 446.14,214.80 470.52,191.60 494.90,184.00 519.28,170.00 543.66,155.70 568.04,151.30 592.42,197.90 616.80,204.90 641.18,201.60" fill="none" stroke="#008000" stroke-width="1.45" stroke-linejoin="round"/>
<circle cx="397.38" cy="201.10" r="2.3" fill="#008000"/>
<circle cx="421.76" cy="202.60" r="2.3" fill="#008000"/>
<circle cx="446.14" cy="214.80" r="2.3" fill="#008000"/>
<circle cx="470.52" cy="191.60" r="2.3" fill="#008000"/>
<circle cx="494.90" cy="184.00" r="2.3" fill="#008000"/>
<circle cx="519.28" cy="170.00" r="2.3" fill="#008000"/>
<circle cx="543.66" cy="155.70" r="2.3" fill="#008000"/>
<circle cx="568.04" cy="151.30" r="2.3" fill="#008000"/>
<circle cx="592.42" cy="197.90" r="2.3" fill="#008000"/>
<circle cx="616.80" cy="204.90" r="2.3" fill="#008000"/>
<circle cx="641.18" cy="201.60" r="2.3" fill="#008000"/>
</g>
<g><polyline points="397.38,201.10 421.76,185.80 446.14,199.30 470.52,164.60 494.90,154.00 519.28,134.90 543.66,123.50 568.04,106.00 592.42,172.70 616.80,189.20 641.18,187.20" fill="none" stroke="#bfbf00" stroke-width="1.8" stroke-linejoin="round"/>
<circle cx="397.38" cy="201.10" r="2.3" fill="#bfbf00"/>
<circle cx="421.76" cy="185.80" r="2.3" fill="#bfbf00"/>
<circle cx="446.14" cy="199.30" r="2.3" fill="#bfbf00"/>
<circle cx="470.52" cy="164.60" r="2.3" fill="#bfbf00"/>
<circle cx="494.90" cy="154.00" r="2.3" fill="#bfbf00"/>
<circle cx="519.28" cy="134.90" r="2.3" fill="#bfbf00"/>
<circle cx="543.66" cy="123.50" r="2.3" fill="#bfbf00"/>
<circle cx="568.04" cy="106.00" r="2.3" fill="#bfbf00"/>
<circle cx="592.42" cy="172.70" r="2.3" fill="#bfbf00"/>
<circle cx="616.80" cy="189.20" r="2.3" fill="#bfbf00"/>
<circle cx="641.18" cy="187.20" r="2.3" fill="#bfbf00"/>
</g>
<g><polyline points="397.38,201.10 421.76,165.00 446.14,184.20 470.52,146.10 494.90,168.00 519.28,167.50 543.66,146.70 568.04,114.50 592.42,138.20 616.80,153.80 641.18,115.10" fill="none" stroke="#00bfbf" stroke-width="1.3" stroke-linejoin="round"/>
<circle cx="397.38" cy="201.10" r="2.3" fill="#00bfbf"/>
<circle cx="421.76" cy="165.00" r="2.3" fill="#00bfbf"/>
<circle cx="446.14" cy="184.20" r="2.3" fill="#00bfbf"/>
<circle cx="470.52" cy="146.10" r="2.3" fill="#00bfbf"/>
<circle cx="494.90" cy="168.00" r="2.3" fill="#00bfbf"/>
<circle cx="519.28" cy="167.50" r="2.3" fill="#00bfbf"/>
<circle cx="543.66" cy="146.70" r="2.3" fill="#00bfbf"/>
<circle cx="568.04" cy="114.50" r="2.3" fill="#00bfbf"/>
<circle cx="592.42" cy="138.20" r="2.3" fill="#00bfbf"/>
<circle cx="616.80" cy="153.80" r="2.3" fill="#00bfbf"/>
<circle cx="641.18" cy="115.10" r="2.3" fill="#00bfbf"/>
</g>
<g><polyline points="470.52,166.50 482.71,167.50 494.90,168.50 507.09,104.20 519.28,93.60 531.47,18.70 543.66,85.50 555.85,88.70 568.04,126.70 580.23,145.70 592.42,142.50 604.61,156.50 616.80,170.00 628.99,175.50 641.18,185.50" fill="none" stroke="#ffc0cb" stroke-width="1.3" stroke-linejoin="round"/>
<circle cx="470.52" cy="166.50" r="2.3" fill="#ffc0cb"/>
<circle cx="482.71" cy="167.50" r="2.3" fill="#ffc0cb"/>
<circle cx="494.90" cy="168.50" r="2.3" fill="#ffc0cb"/>
<circle cx="507.09" cy="104.20" r="2.3" fill="#ffc0cb"/>
<circle cx="519.28" cy="93.60" r="2.3" fill="#ffc0cb"/>
<circle cx="531.47" cy="18.70" r="2.3" fill="#ffc0cb"/>
<circle cx="543.66" cy="85.50" r="2.3" fill="#ffc0cb"/>
<circle cx="555.85" cy="88.70" r="2.3" fill="#ffc0cb"/>
<circle cx="568.04" cy="126.70" r="2.3" fill="#ffc0cb"/>
<circle cx="580.23" cy="145.70" r="2.3" fill="#ffc0cb"/>
<circle cx="592.42" cy="142.50" r="2.3" fill="#ffc0cb"/>
<circle cx="604.61" cy="156.50" r="2.3" fill="#ffc0cb"/>
<circle cx="616.80" cy="170.00" r="2.3" fill="#ffc0cb"/>
<circle cx="628.99" cy="175.50" r="2.3" fill="#ffc0cb"/>
<circle cx="641.18" cy="185.50" r="2.3" fill="#ffc0cb"/>
</g>
<g><polyline points="470.52,201.10 482.71,223.00 494.90,206.90 507.09,209.50 519.28,189.00 531.47,180.20 543.66,187.70 555.85,189.10 568.04,196.00 580.23,185.90 592.42,214.60 604.61,219.80 616.80,225.70 628.99,225.00 641.18,231.10" fill="none" stroke="#800080" stroke-width="1.45" stroke-linejoin="round"/>
<circle cx="470.52" cy="201.10" r="2.3" fill="#800080"/>
<circle cx="482.71" cy="223.00" r="2.3" fill="#800080"/>
<circle cx="494.90" cy="206.90" r="2.3" fill="#800080"/>
<circle cx="507.09" cy="209.50" r="2.3" fill="#800080"/>
<circle cx="519.28" cy="189.00" r="2.3" fill="#800080"/>
<circle cx="531.47" cy="180.20" r="2.3" fill="#800080"/>
<circle cx="543.66" cy="187.70" r="2.3" fill="#800080"/>
<circle cx="555.85" cy="189.10" r="2.3" fill="#800080"/>
<circle cx="568.04" cy="196.00" r="2.3" fill="#800080"/>
<circle cx="580.23" cy="185.90" r="2.3" fill="#800080"/>
<circle cx="592.42" cy="214.60" r="2.3" fill="#800080"/>
<circle cx="604.61" cy="219.80" r="2.3" fill="#800080"/>
<circle cx="616.80" cy="225.70" r="2.3" fill="#800080"/>
<circle cx="628.99" cy="225.00" r="2.3" fill="#800080"/>
<circle cx="641.18" cy="231.10" r="2.3" fill="#800080"/>
</g>
<g><polyline points="397.38,201.10 421.76,197.20 446.14,204.90 470.52,169.30 494.90,168.80 519.28,142.40 543.66,123.60 568.04,86.60 592.42,170.70 616.80,190.80 641.18,184.80" fill="none" stroke="#000000" stroke-width="1.6" stroke-linejoin="round"/>
<circle cx="397.38" cy="201.10" r="2.3" fill="#000000"/>
<circle cx="421.76" cy="197.20" r="2.3" fill="#000000"/>
<circle cx="446.14" cy="204.90" r="2.3" fill="#000000"/>
<circle cx="470.52" cy="169.30" r="2.3" fill="#000000"/>
<circle cx="494.90" cy="168.80" r="2.3" fill="#000000"/>
<circle cx="519.28" cy="142.40" r="2.3" fill="#000000"/>
<circle cx="543.66" cy="123.60" r="2.3" fill="#000000"/>
<circle cx="568.04" cy="86.60" r="2.3" fill="#000000"/>
<circle cx="592.42" cy="170.70" r="2.3" fill="#000000"/>
<circle cx="616.80" cy="190.80" r="2.3" fill="#000000"/>
<circle cx="641.18" cy="184.80" r="2.3" fill="#000000"/>
</g>
<g><polyline points="397.38,201.10 421.76,194.50 446.14,197.60 470.52,155.10 494.90,146.50 519.28,112.50 543.66,79.20 568.04,78.70 592.42,149.40 616.80,171.30 641.18,169.60" fill="none" stroke="#0000ff" stroke-width="1.75" stroke-linejoin="round"/>
<circle cx="397.38" cy="201.10" r="2.3" fill="#0000ff"/>
<circle cx="421.76" cy="194.50" r="2.3" fill="#0000ff"/>
<circle cx="446.14" cy="197.60" r="2.3" fill="#0000ff"/>
<circle cx="470.52" cy="155.10" r="2.3" fill="#0000ff"/>
<circle cx="494.90" cy="146.50" r="2.3" fill="#0000ff"/>
<circle cx="519.28" cy="112.50" r="2.3" fill="#0000ff"/>
<circle cx="543.66" cy="79.20" r="2.3" fill="#0000ff"/>
<circle cx="568.04" cy="78.70" r="2.3" fill="#0000ff"/>
<circle cx="592.42" cy="149.40" r="2.3" fill="#0000ff"/>
<circle cx="616.80" cy="171.30" r="2.3" fill="#0000ff"/>
<circle cx="641.18" cy="169.60" r="2.3" fill="#0000ff"/>
</g>
</g>
<text font-size="12.4" fill="#6e6e6e"><textPath href="#tpath" startOffset="130.61" textLength="50.59" lengthAdjust="spacingAndGlyphs">suitable</textPath></text>
<text font-size="12.4" fill="#6e6e6e"><textPath href="#tpath" startOffset="184.47" textLength="58.74" lengthAdjust="spacingAndGlyphs">reference</textPath></text>
<text font-size="12.4" fill="#6e6e6e"><textPath href="#tpath" startOffset="246.77" textLength="33.99" lengthAdjust="spacingAndGlyphs">curve</textPath></text>
<text font-size="12.4" fill="#6e6e6e"><textPath href="#tpath" startOffset="284.75" textLength="37.87" lengthAdjust="spacingAndGlyphs">shape</textPath></text>
<rect x="372.6" y="16.3" width="280.50" height="215.80" fill="none" stroke="#333" stroke-width="1.0"/>
<line x1="397.38" y1="232.10" x2="397.38" y2="228.60" stroke="#555" stroke-width="0.7" />
<line x1="397.38" y1="16.30" x2="397.38" y2="19.80" stroke="#555" stroke-width="0.7" />
<line x1="446.14" y1="232.10" x2="446.14" y2="228.60" stroke="#555" stroke-width="0.7" />
<line x1="446.14" y1="16.30" x2="446.14" y2="19.80" stroke="#555" stroke-width="0.7" />
<line x1="494.90" y1="232.10" x2="494.90" y2="228.60" stroke="#555" stroke-width="0.7" />
<line x1="494.90" y1="16.30" x2="494.90" y2="19.80" stroke="#555" stroke-width="0.7" />
<line x1="543.66" y1="232.10" x2="543.66" y2="228.60" stroke="#555" stroke-width="0.7" />
<line x1="543.66" y1="16.30" x2="543.66" y2="19.80" stroke="#555" stroke-width="0.7" />
<line x1="592.42" y1="232.10" x2="592.42" y2="228.60" stroke="#555" stroke-width="0.7" />
<line x1="592.42" y1="16.30" x2="592.42" y2="19.80" stroke="#555" stroke-width="0.7" />
<line x1="641.18" y1="232.10" x2="641.18" y2="228.60" stroke="#555" stroke-width="0.7" />
<line x1="641.18" y1="16.30" x2="641.18" y2="19.80" stroke="#555" stroke-width="0.7" />
<line x1="653.10" y1="201.27" x2="649.60" y2="201.27" stroke="#555" stroke-width="0.7" />
<line x1="653.10" y1="170.44" x2="649.60" y2="170.44" stroke="#555" stroke-width="0.7" />
<line x1="653.10" y1="139.61" x2="649.60" y2="139.61" stroke="#555" stroke-width="0.7" />
<line x1="653.10" y1="108.79" x2="649.60" y2="108.79" stroke="#555" stroke-width="0.7" />
<line x1="653.10" y1="77.96" x2="649.60" y2="77.96" stroke="#555" stroke-width="0.7" />
<line x1="653.10" y1="47.13" x2="649.60" y2="47.13" stroke="#555" stroke-width="0.7" />
<text x="656.10" y="235.30" font-size="8.9" text-anchor="start" fill="#000" textLength="12.60" lengthAdjust="spacingAndGlyphs" >0.5</text>
<text x="656.10" y="204.47" font-size="8.9" text-anchor="start" fill="#000" textLength="12.60" lengthAdjust="spacingAndGlyphs" >1.0</text>
<text x="656.10" y="173.64" font-size="8.9" text-anchor="start" fill="#000" textLength="12.60" lengthAdjust="spacingAndGlyphs" >1.5</text>
<text x="656.10" y="142.81" font-size="8.9" text-anchor="start" fill="#000" textLength="12.60" lengthAdjust="spacingAndGlyphs" >2.0</text>
<text x="656.10" y="111.99" font-size="8.9" text-anchor="start" fill="#000" textLength="12.60" lengthAdjust="spacingAndGlyphs" >2.5</text>
<text x="656.10" y="81.16" font-size="8.9" text-anchor="start" fill="#000" textLength="12.60" lengthAdjust="spacingAndGlyphs" >3.0</text>
<text x="656.10" y="50.33" font-size="8.9" text-anchor="start" fill="#000" textLength="12.60" lengthAdjust="spacingAndGlyphs" >3.5</text>
<text x="656.10" y="19.50" font-size="8.9" text-anchor="start" fill="#000" textLength="12.60" lengthAdjust="spacingAndGlyphs" >4.0</text>
<text x="397.38" y="241.60" font-size="8.9" text-anchor="middle" fill="#000" textLength="21.10" lengthAdjust="spacingAndGlyphs" >2002</text>
<text x="446.14" y="241.60" font-size="8.9" text-anchor="middle" fill="#000" textLength="21.10" lengthAdjust="spacingAndGlyphs" >2004</text>
<text x="494.90" y="241.60" font-size="8.9" text-anchor="middle" fill="#000" textLength="21.10" lengthAdjust="spacingAndGlyphs" >2006</text>
<text x="543.66" y="241.60" font-size="8.9" text-anchor="middle" fill="#000" textLength="21.10" lengthAdjust="spacingAndGlyphs" >2008</text>
<text x="592.42" y="241.60" font-size="8.9" text-anchor="middle" fill="#000" textLength="21.10" lengthAdjust="spacingAndGlyphs" >2010</text>
<text x="641.18" y="241.60" font-size="8.9" text-anchor="middle" fill="#000" textLength="21.10" lengthAdjust="spacingAndGlyphs" >2012</text>
<text x="513.40" y="250.00" font-size="8.9" text-anchor="middle" fill="#000" textLength="22.50" lengthAdjust="spacingAndGlyphs" >years</text>
<text x="513.40" y="12.20" font-size="9.9" text-anchor="middle" fill="#000" textLength="155.80" lengthAdjust="spacingAndGlyphs" >comparison of RV for GMV-ELD</text>
<text transform="translate(680.6,122.3) rotate(-90)" font-size="8.6" text-anchor="middle" textLength="79.8" lengthAdjust="spacingAndGlyphs">relative magnitude</text>
<text x="631.00" y="44.00" font-size="20.4" text-anchor="middle" fill="#000" font-weight="bold" >e</text>
<g><line x1="383.5" y1="28.1" x2="401.2" y2="28.1" stroke="#ff0000" stroke-width="1.4"/><circle cx="383.5" cy="28.1" r="2.2" fill="#ff0000"/><circle cx="401.2" cy="28.1" r="2.2" fill="#ff0000"/></g>
<text x="411.50" y="31.50" font-size="9.6" text-anchor="start" fill="#000" textLength="43.10" lengthAdjust="spacingAndGlyphs" >E-PIN vol.</text>
<g><line x1="383.5" y1="41.5" x2="401.2" y2="41.5" stroke="#008000" stroke-width="1.4"/><circle cx="383.5" cy="41.5" r="2.2" fill="#008000"/><circle cx="401.2" cy="41.5" r="2.2" fill="#008000"/></g>
<text x="411.50" y="44.90" font-size="9.6" text-anchor="start" fill="#000" textLength="49.40" lengthAdjust="spacingAndGlyphs" >LD-PIN vol.</text>
<g><line x1="383.5" y1="54.9" x2="401.2" y2="54.9" stroke="#0000ff" stroke-width="1.8"/><circle cx="383.5" cy="54.9" r="2.2" fill="#0000ff"/><circle cx="401.2" cy="54.9" r="2.2" fill="#0000ff"/></g>
<text x="411.50" y="58.30" font-size="9.6" text-anchor="start" fill="#000" textLength="48.20" lengthAdjust="spacingAndGlyphs" >world-GDP</text>
<g><line x1="383.5" y1="68.3" x2="401.2" y2="68.3" stroke="#000000" stroke-width="1.3"/><circle cx="383.5" cy="68.3" r="2.2" fill="#000000"/><circle cx="401.2" cy="68.3" r="2.2" fill="#000000"/></g>
<text x="411.50" y="71.70" font-size="9.6" text-anchor="start" fill="#000" textLength="70.90" lengthAdjust="spacingAndGlyphs" >world trade vol.</text>
<g><line x1="383.5" y1="81.7" x2="401.2" y2="81.7" stroke="#bfbf00" stroke-width="2.0"/><circle cx="383.5" cy="81.7" r="2.2" fill="#bfbf00"/><circle cx="401.2" cy="81.7" r="2.2" fill="#bfbf00"/></g>
<text x="411.50" y="85.10" font-size="9.6" text-anchor="start" fill="#000" textLength="70.30" lengthAdjust="spacingAndGlyphs" >world-FDI stock</text>
<g><line x1="383.5" y1="95.1" x2="401.2" y2="95.1" stroke="#00bfbf" stroke-width="1.5"/><circle cx="383.5" cy="95.1" r="2.2" fill="#00bfbf"/><circle cx="401.2" cy="95.1" r="2.2" fill="#00bfbf"/></g>
<text x="411.50" y="98.50" font-size="9.6" text-anchor="start" fill="#000" textLength="59.10" lengthAdjust="spacingAndGlyphs" >world-SE vol.</text>
<g><line x1="383.5" y1="108.5" x2="401.2" y2="108.5" stroke="#ffc0cb" stroke-width="1.5"/><circle cx="383.5" cy="108.5" r="2.2" fill="#ffc0cb"/><circle cx="401.2" cy="108.5" r="2.2" fill="#ffc0cb"/></g>
<text x="411.50" y="111.90" font-size="9.6" text-anchor="start" fill="#000" textLength="53.50" lengthAdjust="spacingAndGlyphs" >FX vol. (SG)</text>
<g><line x1="383.5" y1="121.9" x2="401.2" y2="121.9" stroke="#800080" stroke-width="1.5"/><circle cx="383.5" cy="121.9" r="2.2" fill="#800080"/><circle cx="401.2" cy="121.9" r="2.2" fill="#800080"/></g>
<text x="411.50" y="125.30" font-size="9.6" text-anchor="start" fill="#000" textLength="60.00" lengthAdjust="spacingAndGlyphs" >FX vol. (N.A.)</text>
<line x1="383.0" y1="135.3" x2="401.5" y2="135.3" stroke="#aaa" stroke-width="1.0" stroke-dasharray="1,1.4"/>
<text x="411.50" y="138.70" font-size="9.6" text-anchor="start" fill="#000" textLength="43.40" lengthAdjust="spacingAndGlyphs" >reference</text>
</svg></body></html>
